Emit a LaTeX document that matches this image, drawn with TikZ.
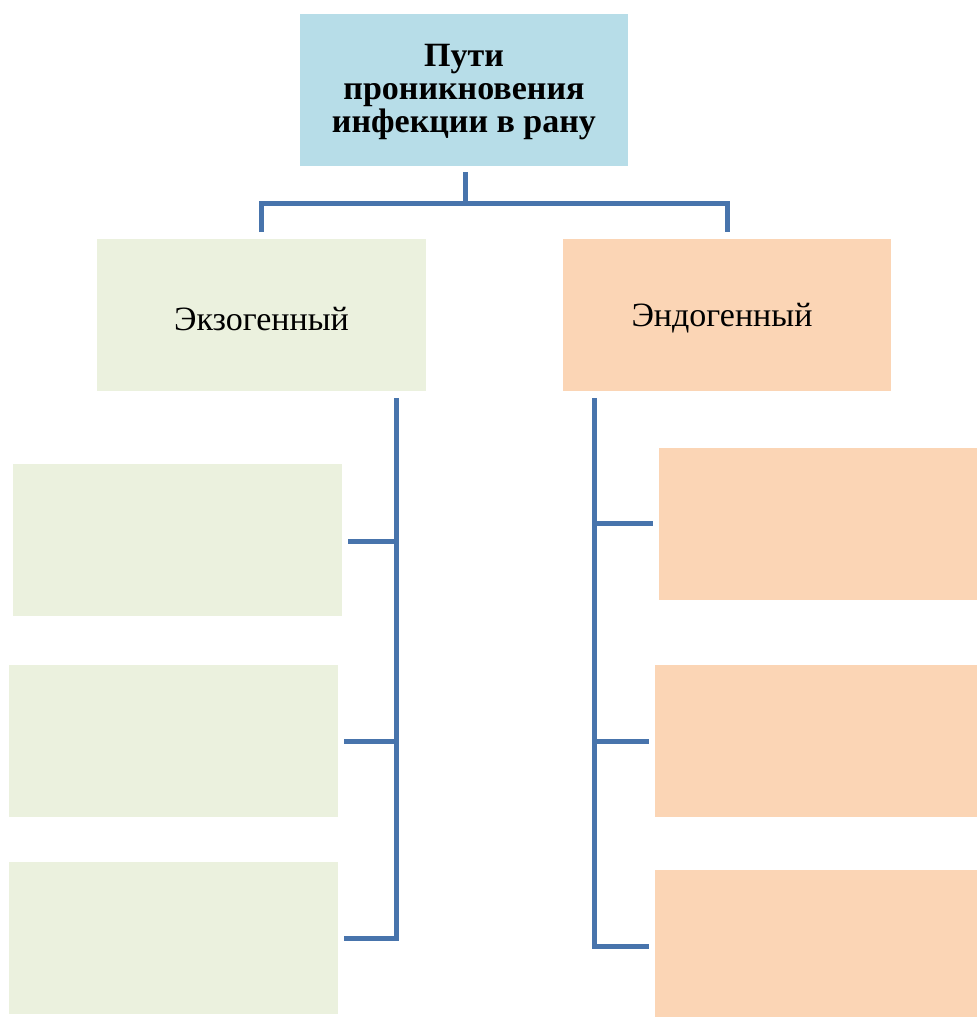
\documentclass[tikz,border=0pt]{standalone}
\usepackage{fontspec}
\setmainfont{Liberation Serif}
\definecolor{topblue}{HTML}{B7DDE8}
\definecolor{exogreen}{HTML}{EBF1DE}
\definecolor{endoorange}{HTML}{FBD5B5}
\definecolor{linkblue}{HTML}{4874AC}
\begin{document}
\begin{tikzpicture}[x=1pt,y=-1pt,
  box/.style={draw=none, inner sep=0pt, align=center, font=\fontsize{34}{33}\selectfont},
  link/.style={draw=linkblue, line width=5pt, line join=miter}]
\useasboundingbox (0,0) rectangle (977,1017);
% boxes
\node[box, fill=topblue, minimum width=328pt, minimum height=152pt] (top) at (464,90) {};
\node[align=center, inner sep=0pt, font=\fontsize{34}{33}\selectfont\bfseries] (toptext) at (464,92) {Пути\\проникновения\\инфекции в рану};
\node[box, fill=exogreen, minimum width=329pt, minimum height=152pt] (exo) at (261.5,315) {};
\node[font=\fontsize{34}{33}\selectfont, inner sep=0pt] (exotext) at (261.5,319) {Экзогенный};
\node[box, fill=endoorange, minimum width=328pt, minimum height=152pt] (endo) at (727,315) {};
\node[font=\fontsize{34}{33}\selectfont, inner sep=0pt] (endotext) at (722,318) {Эндогенный};
\node[box, fill=exogreen, minimum width=329pt, minimum height=152pt] (l1) at (177.5,540) {};
\node[box, fill=exogreen, minimum width=329pt, minimum height=152pt] (l2) at (173.5,741) {};
\node[box, fill=exogreen, minimum width=329pt, minimum height=152pt] (l3) at (173.5,938) {};
\node[box, fill=endoorange, minimum width=318pt, minimum height=152pt] (r1) at (818,524) {};
\node[box, fill=endoorange, minimum width=322pt, minimum height=152pt] (r2) at (816,741) {};
\node[box, fill=endoorange, minimum width=322pt, minimum height=147pt] (r3) at (816,943.5) {};
% connector coordinates
\coordinate (ts) at (465,172);
\coordinate (tj) at (465,203);
\coordinate (tl) at (261,203);
\coordinate (tr) at (727,203);
\coordinate (tle) at (261,232);
\coordinate (tre) at (727,232);
\coordinate (ls) at (396,398);
\coordinate (lb) at (396,938);
\coordinate (l1j) at (396,541);
\coordinate (l2j) at (396,741);
\coordinate (l1e) at (348,541);
\coordinate (l2e) at (344,741);
\coordinate (l3e) at (344,938);
\coordinate (rs) at (594,398);
\coordinate (rb) at (594,946);
\coordinate (r1j) at (594,523);
\coordinate (r2j) at (594,741);
\coordinate (r1e) at (653,523);
\coordinate (r2e) at (649,741);
\coordinate (r3e) at (649,946);
% connectors
\draw[link] (ts) -- (tj);
\draw[link] (tle) -- (tl) -- (tr) -- (tre);
\draw[link] (ls) -- (lb) -- (l3e);
\draw[link] (l1e) -- (l1j);
\draw[link] (l2e) -- (l2j);
\draw[link] (rs) -- (rb) -- (r3e);
\draw[link] (r1j) -- (r1e);
\draw[link] (r2j) -- (r2e);
\end{tikzpicture}
\end{document}
